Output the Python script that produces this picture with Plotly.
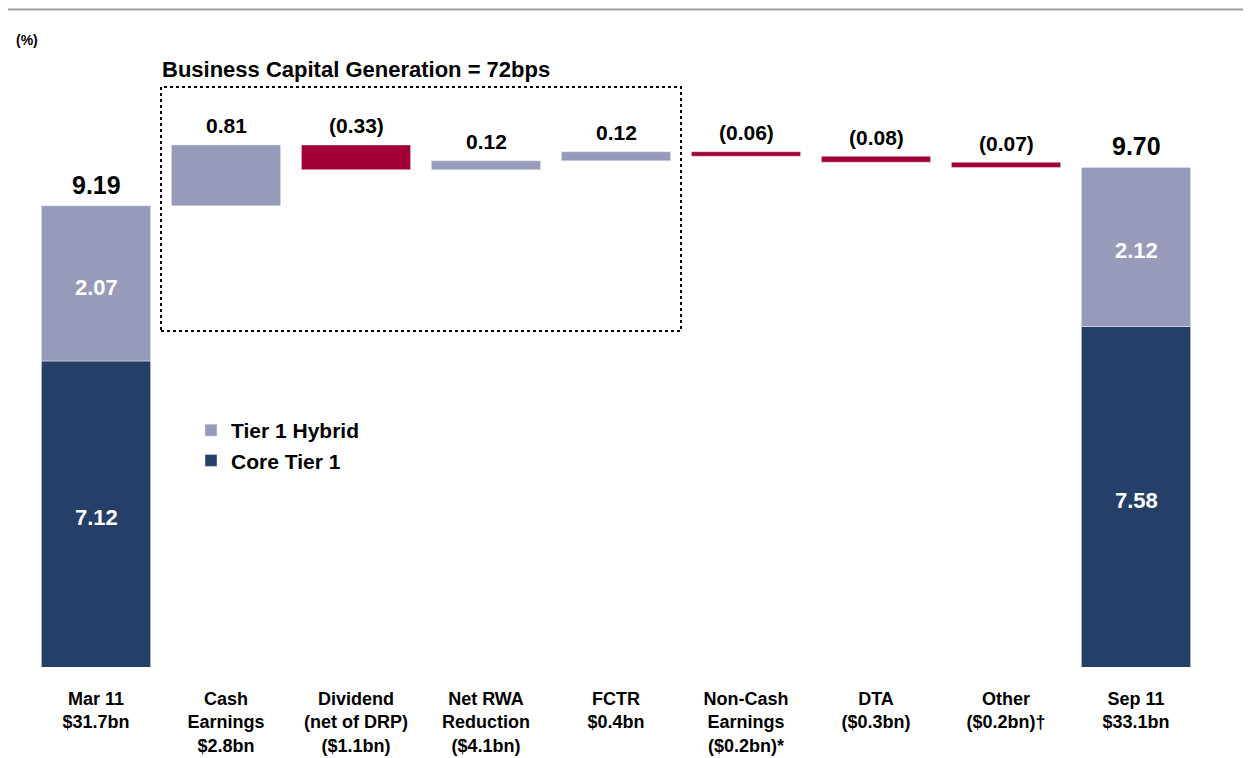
import plotly.graph_objects as go

# ---------------- data ----------------
categories = [
    "Mar 11<br>$31.7bn",
    "Cash<br>Earnings<br>$2.8bn",
    "Dividend<br>(net of DRP)<br>($1.1bn)",
    "Net RWA<br>Reduction<br>($4.1bn)",
    "FCTR<br>$0.4bn",
    "Non-Cash<br>Earnings<br>($0.2bn)*",
    "DTA<br>($0.3bn)",
    "Other<br>($0.2bn)\u2020",
    "Sep 11<br>$33.1bn",
]
core_tier1 = [7.12, 7.58]          # Mar 11, Sep 11
tier1_hybrid = [2.07, 2.12]        # Mar 11, Sep 11
changes = [0.81, -0.33, 0.12, 0.12, -0.06, -0.08, -0.07]
box_title = "Business Capital Generation = 72bps"
Y_MIN, Y_MAX = 3.04, 11.133

# ---------------- styles ----------------
NAVY = "#253F69"
LAV = "#979AB8"
RED = "#A20036"
FONT = "Liberation Sans, Arial, sans-serif"
OFF = 8                      # page body margin
W, H = 1251 - OFF, 758 - OFF
L, R, T, B = 23, 50, 52, 91
PW, PH = W - L - R, H - T - B

n = len(categories)
xs = list(range(n))
end_idx = [0, n - 1]

fig = go.Figure()

fig.add_trace(go.Bar(
    x=end_idx, y=core_tier1, name="Core Tier 1", marker_color=NAVY,
    width=0.84, legendgroup="core", hoverinfo="skip",
))
fig.add_trace(go.Bar(
    x=end_idx, y=tier1_hybrid, base=core_tier1, name="Tier 1 Hybrid",
    marker_color=LAV, width=0.84, legendgroup="hyb", hoverinfo="skip",
))

# floating waterfall bars
start = core_tier1[0] + tier1_hybrid[0]
bases, heights, colors, tops, labels = [], [], [], [], []
level = start
for c in changes:
    new = level + c
    bases.append(min(level, new))
    heights.append(abs(c))
    colors.append(LAV if c >= 0 else RED)
    tops.append(max(level, new))
    labels.append(f"{c:.2f}" if c >= 0 else f"({abs(c):.2f})")
    level = new

fig.add_trace(go.Bar(
    x=xs[1:-1], y=heights, base=bases, marker_color=colors, width=0.84,
    showlegend=False, hoverinfo="skip",
))

annotations = []
for i, (t, lab) in enumerate(zip(tops, labels)):
    annotations.append(dict(
        x=xs[i + 1], y=t, text=lab, showarrow=False, yanchor="middle", yshift=19,
        font=dict(family=FONT, size=21, color="black", weight="bold"),
    ))
for k, xi in enumerate(end_idx):
    tot = core_tier1[k] + tier1_hybrid[k]
    annotations.append(dict(
        x=xi, y=tot, text=f"{tot:.2f}", showarrow=False, yanchor="middle", yshift=21,
        font=dict(family=FONT, size=25, color="black", weight="bold"),
    ))
    annotations.append(dict(
        x=xi, y=core_tier1[k] + tier1_hybrid[k] / 2, text=f"{tier1_hybrid[k]:.2f}",
        showarrow=False, yanchor="middle", yshift=-4,
        font=dict(family=FONT, size=22, color="white", weight="bold"),
    ))
    annotations.append(dict(
        x=xi, y=(Y_MIN + core_tier1[k]) / 2, text=f"{core_tier1[k]:.2f}",
        showarrow=False, yanchor="middle", yshift=-4,
        font=dict(family=FONT, size=22, color="white", weight="bold"),
    ))


def px_x(px):
    return (px - OFF - L) / PW


def px_y(py):
    return (H - B - (py - OFF)) / PH


annotations.append(dict(
    x=0.49, y=11.0, text=box_title, showarrow=False, xanchor="left", yanchor="middle",
    font=dict(family=FONT, size=22, color="black", weight="bold"),
))
annotations.append(dict(
    xref="paper", yref="paper", x=px_x(14), y=px_y(40), text="(%)",
    showarrow=False, xanchor="left", yanchor="middle",
    font=dict(family=FONT, size=14, color="black", weight="bold"),
))

shapes = [
    dict(type="rect", xref="x", yref="y", x0=0.5, x1=4.5, y0=7.52, y1=10.773,
         line=dict(color="black", width=2, dash="dot"), fillcolor="rgba(0,0,0,0)"),
    dict(type="rect", xref="paper", yref="paper", x0=px_x(0), x1=px_x(1260),
         y0=px_y(9), y1=px_y(-2), fillcolor="#F3F0E9", line_width=0, layer="below"),
    dict(type="line", xref="paper", yref="paper", x0=px_x(0), x1=px_x(1260),
         y0=px_y(9.5), y1=px_y(9.5), line=dict(color="#A0A0A0", width=2)),
]

fig.update_layout(
    width=W, height=H,
    margin=dict(l=L, r=R, t=T, b=B, autoexpand=False),
    paper_bgcolor="white", plot_bgcolor="white",
    barmode="overlay",
    showlegend=True,
    legend=dict(
        x=px_x(191), y=px_y(410), xanchor="left", yanchor="top",
        traceorder="reversed", tracegroupgap=12, bgcolor="rgba(0,0,0,0)",
        font=dict(family=FONT, size=21, color="black", weight="bold"),
    ),
    xaxis=dict(
        range=[-0.5, n - 0.5], tickvals=xs, ticktext=categories,
        showgrid=False, zeroline=False, showline=False, ticks="",
        ticklabelstandoff=19, automargin=False,
        tickfont=dict(family=FONT, size=18, color="black", weight="bold"),
        fixedrange=True,
    ),
    yaxis=dict(
        range=[Y_MIN, Y_MAX], visible=False, showgrid=False, zeroline=False,
        fixedrange=True, automargin=False,
    ),
    annotations=annotations,
    shapes=shapes,
    font=dict(family=FONT),
)

fig.write_html("out.html")
